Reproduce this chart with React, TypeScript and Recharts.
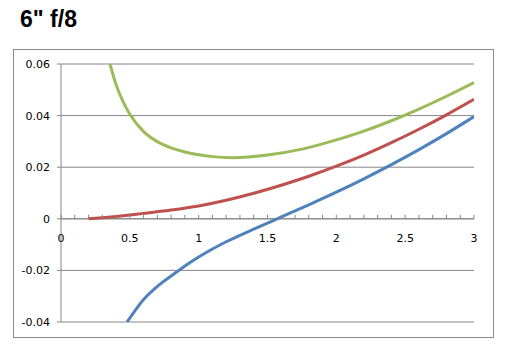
import React from 'react';
import { LineChart, Line, XAxis, YAxis, CartesianGrid, ReferenceLine } from 'recharts';

// values
const blueData = [
  { x: 0.48, y: -0.04 },
  { x: 0.55, y: -0.0347 },
  { x: 0.6, y: -0.0313 },
  { x: 0.7, y: -0.0262 },
  { x: 0.8, y: -0.0222 },
  { x: 0.9, y: -0.0183 },
  { x: 1.0, y: -0.0148 },
  { x: 1.1, y: -0.0117 },
  { x: 1.2, y: -0.0089 },
  { x: 1.4, y: -0.004 },
  { x: 1.57, y: 0.0 },
  { x: 1.8, y: 0.0054 },
  { x: 2.0, y: 0.0103 },
  { x: 2.2, y: 0.0155 },
  { x: 2.4, y: 0.021 },
  { x: 2.6, y: 0.0268 },
  { x: 2.8, y: 0.033 },
  { x: 3.0, y: 0.0396 },
];

const redData = [
  { x: 0.2, y: 0.0 },
  { x: 0.3, y: 0.0004 },
  { x: 0.4, y: 0.0009 },
  { x: 0.5, y: 0.0015 },
  { x: 0.6, y: 0.0021 },
  { x: 0.8, y: 0.0034 },
  { x: 1.0, y: 0.005 },
  { x: 1.2, y: 0.0072 },
  { x: 1.4, y: 0.0099 },
  { x: 1.6, y: 0.013 },
  { x: 1.8, y: 0.0165 },
  { x: 2.0, y: 0.0204 },
  { x: 2.2, y: 0.0247 },
  { x: 2.4, y: 0.0295 },
  { x: 2.6, y: 0.0347 },
  { x: 2.8, y: 0.0403 },
  { x: 3.0, y: 0.0463 },
];

const greenData = [
  { x: 0.356, y: 0.06 },
  { x: 0.4, y: 0.052 },
  { x: 0.45, y: 0.0455 },
  { x: 0.5, y: 0.0405 },
  { x: 0.6, y: 0.0338 },
  { x: 0.7, y: 0.0299 },
  { x: 0.8, y: 0.0275 },
  { x: 0.9, y: 0.0259 },
  { x: 1.0, y: 0.0248 },
  { x: 1.1, y: 0.0241 },
  { x: 1.25, y: 0.0237 },
  { x: 1.5, y: 0.0247 },
  { x: 1.75, y: 0.027 },
  { x: 2.0, y: 0.0306 },
  { x: 2.2, y: 0.034 },
  { x: 2.4, y: 0.038 },
  { x: 2.6, y: 0.0425 },
  { x: 2.8, y: 0.0475 },
  { x: 3.0, y: 0.0528 },
];

const xTicks = [
  0, 0.1, 0.2, 0.3, 0.4, 0.5, 0.6, 0.7, 0.8, 0.9, 1, 1.1, 1.2, 1.3, 1.4, 1.5,
  1.6, 1.7, 1.8, 1.9, 2, 2.1, 2.2, 2.3, 2.4, 2.5, 2.6, 2.7, 2.8, 2.9, 3,
];
const xLabels = [0, 0.5, 1, 1.5, 2, 2.5, 3];
const yTicks = [-0.04, -0.02, 0, 0.02, 0.04, 0.06];

const W = 511;
const H = 358;
const margin = { top: 64, right: 37, left: 13, bottom: 6 };
const X_AXIS_H = 30;
const Y_MIN = -0.04;
const Y_MAX = 0.06;
const plotH = H - margin.top - margin.bottom - X_AXIS_H;
// x axis crosses at y = 0, so the ticks get drawn there
const yZero = margin.top + (plotH * (Y_MAX - 0)) / (Y_MAX - Y_MIN);

const axisColor = '#868686';
const font = '"DejaVu Sans", Verdana, sans-serif';

const ZeroTick = (props) => {
  const { x, payload } = props;
  const v = payload.value;
  const label = xLabels.find((l) => Math.abs(l - v) < 1e-6);
  return (
    <g>
      <line x1={x} x2={x} y1={yZero - 4} y2={yZero} stroke={axisColor} strokeWidth={1} />
      {label !== undefined && (
        <text x={x} y={yZero + 23} textAnchor="middle" fontSize={11} fontFamily={font} fill="#000">
          {String(label)}
        </text>
      )}
    </g>
  );
};

const fmtY = (v) => (v === 0 ? '0' : v.toFixed(2));

export default function App() {
  return (
    <div style={{ position: 'absolute', left: 0, top: 0, width: W, height: H, background: '#fff' }}>
      <div
        style={{
          position: 'absolute',
          left: 20,
          top: 8,
          fontFamily: '"Liberation Sans", Arial, sans-serif',
          fontWeight: 'bold',
          fontSize: 23,
          lineHeight: '23px',
          color: '#000',
        }}
      >
        6" f/8
      </div>
      <div
        style={{
          position: 'absolute',
          left: 13,
          top: 49,
          width: 481,
          height: 289,
          boxSizing: 'border-box',
          border: '1px solid #8a8a8a',
        }}
      />
      <div style={{ position: 'absolute', left: 0, top: 0 }}>
        <LineChart width={W} height={H} margin={margin}>
          <CartesianGrid vertical={false} stroke={axisColor} strokeWidth={1} />
          <XAxis
            type="number"
            dataKey="x"
            domain={[0, 3]}
            ticks={xTicks}
            interval={0}
            height={X_AXIS_H}
            axisLine={false}
            tickLine={false}
            tick={<ZeroTick />}
            allowDataOverflow
          />
          <YAxis
            type="number"
            domain={[Y_MIN, Y_MAX]}
            ticks={yTicks}
            interval={0}
            width={48}
            allowDataOverflow
            tickFormatter={fmtY}
            axisLine={{ stroke: axisColor }}
            tickLine={{ stroke: axisColor }}
            tickSize={4}
            tickMargin={7}
            tick={{ fontSize: 11, fontFamily: font, fill: '#000' }}
          />
          <ReferenceLine y={0} stroke={axisColor} strokeWidth={1} />
          <Line data={greenData} dataKey="y" type="monotone" stroke="#9BBB59" strokeWidth={3} dot={false} isAnimationActive={false} />
          <Line data={redData} dataKey="y" type="monotone" stroke="#C0504D" strokeWidth={3} dot={false} isAnimationActive={false} />
          <Line data={blueData} dataKey="y" type="monotone" stroke="#4F81BD" strokeWidth={3} dot={false} isAnimationActive={false} />
        </LineChart>
      </div>
    </div>
  );
}
